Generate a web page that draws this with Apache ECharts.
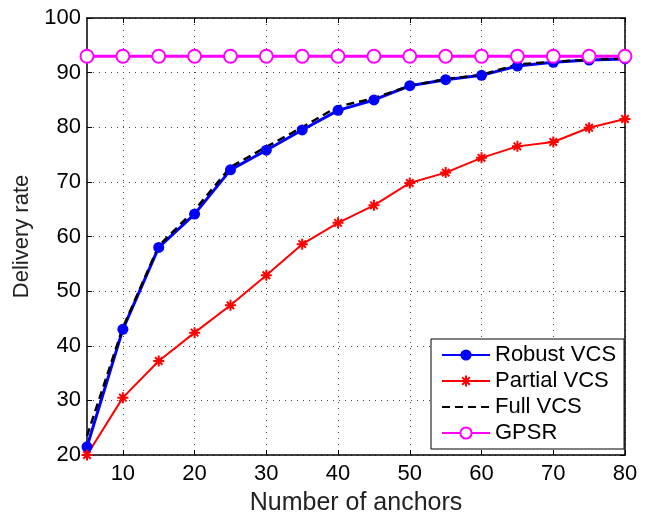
<!DOCTYPE html>
<html>
<head>
<meta charset="utf-8">
<script src="https://cdn.jsdelivr.net/npm/echarts@6/dist/echarts.min.js"></script>
<style>
  html, body { margin: 0; padding: 0; background: #fff; }
  #chart { width: 649px; height: 516px; }
</style>
</head>
<body>
<div id="chart"></div>
<script>
// number of anchors
var anchors = [5, 10, 15, 20, 25, 30, 35, 40, 45, 50, 55, 60, 65, 70, 75, 80];
var robustVCS = [21.5, 43.0, 58.0, 64.1, 72.2, 75.8, 79.5, 83.1, 85.0, 87.6, 88.7, 89.5, 91.2, 91.9, 92.3, 92.5];
var partialVCS = [20.0, 30.5, 37.2, 42.4, 47.4, 52.9, 58.6, 62.5, 65.7, 69.8, 71.7, 74.4, 76.5, 77.3, 79.9, 81.5];
var fullVCS = [23.5, 43.3, 58.3, 64.8, 72.7, 76.4, 80.0, 83.8, 85.3, 87.6, 88.8, 89.6, 91.5, 92.0, 92.4, 92.6];
var gpsr = [93, 93, 93, 93, 93, 93, 93, 93, 93, 93, 93, 93, 93, 93, 93, 93];
var xTicks = [10, 20, 30, 40, 50, 60, 70, 80];

function pairs(ys) {
  return anchors.map(function (x, i) { return [x, ys[i]]; });
}

var asterisk = 'path://M5 0L5 10M0 5L10 5M1.6 1.6L8.4 8.4M1.6 8.4L8.4 1.6';
var font = 'Liberation Sans, Arial, Helvetica, sans-serif';

var chart = echarts.init(document.getElementById('chart'));
var gridLine = { show: true, lineStyle: { color: '#444', width: 1, type: [1, 5] } };

var option = {
  animation: false,
  textStyle: { fontFamily: font },
  grid: { left: 87, right: 24, top: 18, bottom: 61, outerBoundsMode: 'none', containLabel: false },
  xAxis: [
    {
      type: 'value', min: 5, max: 80,
      name: 'Number of anchors', nameLocation: 'middle', nameGap: 36,
      nameTextStyle: { fontSize: 25, color: '#222', fontFamily: font },
      axisLine: { lineStyle: { color: '#000', width: 1.5 } },
      axisTick: { inside: true, length: 5, customValues: xTicks, lineStyle: { color: '#000' } },
      axisLabel: { customValues: xTicks, fontSize: 22, color: '#000', margin: 8, fontFamily: font },
      splitLine: gridLine
    },
    {
      type: 'value', min: 5, max: 80, position: 'top',
      axisLine: { lineStyle: { color: '#000', width: 1.5 } },
      axisTick: { inside: true, length: 5, customValues: xTicks, lineStyle: { color: '#000' } },
      axisLabel: { show: false },
      splitLine: { show: false }
    }
  ],
  yAxis: [
    {
      type: 'value', min: 20, max: 100, interval: 10,
      name: 'Delivery rate', nameLocation: 'middle', nameGap: 54,
      nameTextStyle: { fontSize: 22, color: '#222', fontFamily: font },
      axisLine: { show: true, lineStyle: { color: '#000', width: 1.5 } },
      axisTick: { show: true, inside: true, length: 5, lineStyle: { color: '#000' } },
      axisLabel: { fontSize: 22, color: '#000', margin: 6, fontFamily: font },
      splitLine: gridLine
    },
    {
      type: 'value', min: 20, max: 100, interval: 10, position: 'right',
      axisLine: { show: true, lineStyle: { color: '#000', width: 1.5 } },
      axisTick: { show: true, inside: true, length: 5, lineStyle: { color: '#000' } },
      axisLabel: { show: false },
      splitLine: { show: false }
    }
  ],
  legend: {
    orient: 'vertical', left: 431, top: 339,
    padding: [5, 8, 5, 10],
    itemGap: 4, itemWidth: 48, itemHeight: 14,
    backgroundColor: '#fff', borderColor: '#000', borderWidth: 1,
    textStyle: { fontSize: 22, color: '#000', fontFamily: font, lineHeight: 22 },
    data: [
      'Robust VCS',
      'Partial VCS',
      { name: 'Full VCS', itemStyle: { opacity: 0 } },
      'GPSR'
    ]
  },
  series: [
    {
      name: 'Robust VCS', type: 'line', data: pairs(robustVCS),
      symbol: 'circle', symbolSize: 11,
      lineStyle: { color: '#0000ff', width: 3 },
      itemStyle: { color: '#0000ff' }
    },
    {
      name: 'Partial VCS', type: 'line', data: pairs(partialVCS),
      symbol: asterisk, symbolSize: 11,
      lineStyle: { color: '#ff0000', width: 2 },
      itemStyle: { color: '#ff0000', borderColor: '#ff0000', borderWidth: 2 }
    },
    {
      name: 'Full VCS', type: 'line', data: pairs(fullVCS),
      symbol: 'none',
      lineStyle: { color: '#000', width: 2.5, type: [8, 5] },
      itemStyle: { color: '#000' }
    },
    {
      name: 'GPSR', type: 'line', data: pairs(gpsr),
      symbol: 'emptyCircle', symbolSize: 13,
      lineStyle: { color: '#ff00ff', width: 3 },
      itemStyle: { color: '#ff00ff', borderColor: '#ff00ff', borderWidth: 2.5 }
    }
  ]
};
chart.setOption(option);
</script>
</body>
</html>
